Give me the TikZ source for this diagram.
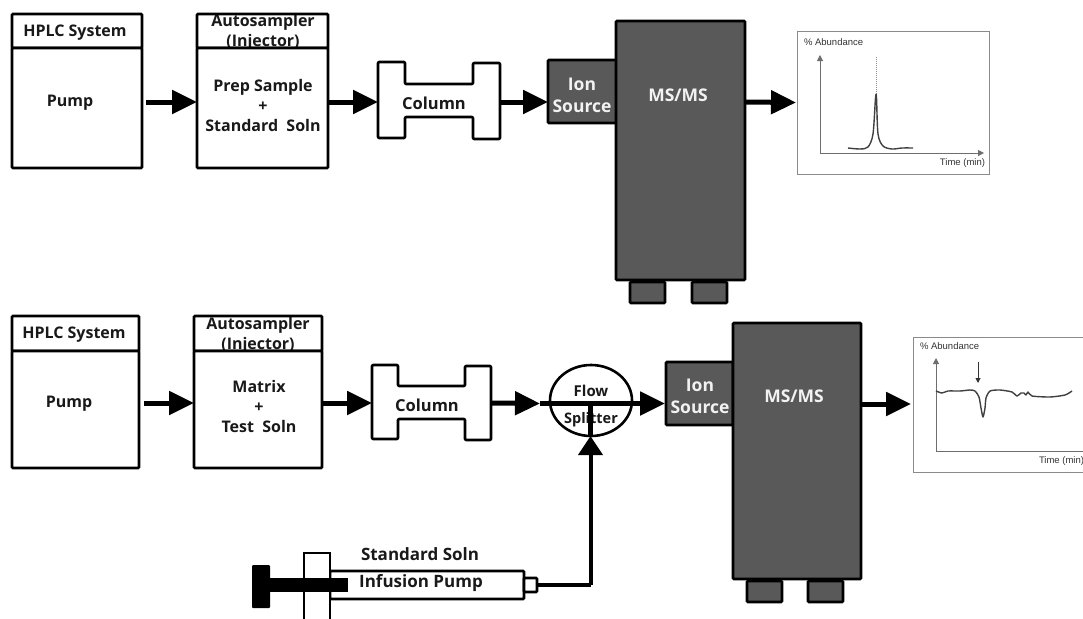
\documentclass[tikz,border=0pt]{standalone}
\usepackage{fontspec}
\setmainfont{Open Sans}
\newfontfamily\chartfont{Liberation Sans}
\usetikzlibrary{arrows.meta,shapes.geometric}
\definecolor{msgray}{HTML}{595959}
\definecolor{chartgray}{HTML}{8A8A8A}
\tikzset{
  every node/.style={outer sep=0},
  box/.style={draw=black,line width=2.6,fill=white,inner sep=0,anchor=north west,rounded corners=1},
  hollow/.style={box,fill=none},
  lab/.style={font=\fontsize{16}{20}\selectfont\bfseries,inner sep=0,align=center,text=black!90},
  biglab/.style={font=\fontsize{17}{20}\selectfont\bfseries,inner sep=0,align=center,text=black!90},
  whitelab/.style={font=\fontsize{17.5}{22}\selectfont\bfseries,inner sep=0,align=center,text=white!95!black},
  dark/.style={draw=black,line width=2.6,fill=msgray,inner sep=0,anchor=north west,rounded corners=1},
  foot/.style={dark,minimum width=35,minimum height=21},
  flow/.style={line width=5,-{Triangle[length=25,width=23]}},
  colshape/.style={draw=black,line width=2.6,fill=white,rounded corners=1,line join=round},
  ghost/.style={inner sep=0,minimum height=76},
  chart/.style={draw=chartgray,line width=1,fill=white,inner sep=0,anchor=north west},
  axis/.style={draw=chartgray!80!black,line width=1,-{Triangle[length=6,width=6]}},
  charttext/.style={font=\chartfont\fontsize{9.5}{11}\selectfont,text=black!80,inner sep=0},
  trace/.style={draw=black!75,line width=1.4,line join=round}
}
\begin{document}
\begin{tikzpicture}[x=1pt,y=-1pt]
\useasboundingbox (0,0) rectangle (1083,618);
% ---------- top row
\node[lab] (autoAt) at (263,32) {Autosampler\\(Injector)};
\node[hollow,minimum width=130,minimum height=34] (hplcA) at (12,14) {};
\node[box,minimum width=130,minimum height=120] (pumpA) at (12,48) {};
\node[lab] (hplcAt) at (75,33) {HPLC System};
\node[lab] (pumpAt) at (70,103) {Pump};
\node[hollow,minimum width=131,minimum height=34] (autoA) at (197,14) {};
\node[box,minimum width=131,minimum height=120] (prepA) at (197,48) {};
\node[lab] (prepAt) at (263,105) {Prep Sample\\+\\Standard\ \ Soln};
\draw[colshape] (378,62)--(405,62)--(405,84)--(473,84)--(473,63)--(500,63)--(500,139)--(473,139)--(473,117)--(405,117)--(405,138)--(378,138)--cycle;
\node[ghost,minimum width=122] (colA) at (439,102) {};
\node[lab,font=\fontsize{16.5}{20}\selectfont\bfseries] (colAt) at (434,103) {Column};
\node[foot] (footA1) at (630,282) {};
\node[foot] (footA2) at (692,282) {};
\node[dark,minimum width=69,minimum height=63] (ionA) at (548,60) {};
\node[whitelab] (ionAt) at (582,95) {Ion\\Source};
\node[dark,minimum width=129,minimum height=259] (msA) at (616,21) {};
\node[whitelab] (msAt) at (678,95) {MS/MS};
\node[chart,minimum width=192,minimum height=142] (chartA) at (797,32) {};
\draw[flow] ([shift={(4,-6)}]pumpA.east) -- ([shift={(0,-6)}]prepA.west);
\draw[flow] ([shift={(0,-6)}]prepA.east) -- (colA.west);
\draw[flow] (colA.east) -- ([shift={(0,10.5)}]ionA.west);
\draw[flow] ([shift={(0,-48.5)}]msA.east) -- ([shift={(-1,-0.5)}]chartA.west);
\coordinate (oA) at (820,153);
\coordinate (yA) at (820,55);
\coordinate (xA) at (984,153);
\draw[axis] (oA) -- (yA);
\draw[axis] (oA) -- (xA);
\draw[draw=black!45,line width=1,densely dotted] (876,57) -- (876,96);
\draw[trace] plot[smooth,tension=0.5] coordinates {(848,148)(860,149)(868,147)(873,134)(875.5,98)(876.5,98)(878,134)(883,146)(892,149)(902,148)(913,148)};
\node[charttext,anchor=west] (abA) at (804,42) {\% Abundance};
\node[charttext,anchor=east] (timeA) at (985,163) {Time (min)};
% ---------- bottom row
\node[lab] (autoBt) at (258,335) {Autosampler\\(Injector)};
\node[hollow,minimum width=127,minimum height=35] (hplcB) at (12,316) {};
\node[box,minimum width=127,minimum height=117] (pumpB) at (12,351) {};
\node[lab] (hplcBt) at (74,335) {HPLC System};
\node[lab] (pumpBt) at (69,404) {Pump};
\node[hollow,minimum width=128,minimum height=35] (autoB) at (194,316) {};
\node[box,minimum width=128,minimum height=117] (prepB) at (194,351) {};
\node[lab] (prepBt) at (259,406.5) {Matrix\\+\\Test\ \ Soln};
\draw[colshape] (372,365)--(398,365)--(398,386)--(465,386)--(465,366)--(491,366)--(491,440)--(465,440)--(465,419)--(398,419)--(398,439)--(372,439)--cycle;
\node[ghost,minimum width=119] (colB) at (431.5,403) {};
\node[lab,font=\fontsize{16.5}{20}\selectfont\bfseries] (colBt) at (427,405) {Column};
\node[draw=black,line width=2.6,fill=white,ellipse,inner sep=0,minimum width=82,minimum height=71] (split) at (591,400.5) {};
\node[lab,font=\fontsize{15}{18}\selectfont\bfseries] (flowt) at (591,391) {Flow};
\node[lab,font=\fontsize{14.5}{18}\selectfont\bfseries] (splitt) at (591,420) {Splitter};
\node[foot] (footB1) at (747,581) {};
\node[foot] (footB2) at (808,581) {};
\node[dark,minimum width=67,minimum height=63] (ionB) at (666,362) {};
\node[whitelab] (ionBt) at (700,396) {Ion\\Source};
\node[dark,minimum width=128,minimum height=256] (msB) at (733,323) {};
\node[whitelab] (msBt) at (794,396) {MS/MS};
\node[chart,minimum width=190,minimum height=135] (chartB) at (913,337) {};
\draw[flow] ([shift={(5,-6.5)}]pumpB.east) -- ([shift={(0,-6.5)}]prepB.west);
\draw[flow] ([shift={(0,-6.5)}]prepB.east) -- (colB.west);
\draw[flow] (colB.east) -- ([shift={(-10,3)}]split.west);
\draw[line width=5] ([shift={(-10,3)}]split.west) -- ([shift={(5,3)}]split.east);
\draw[flow] ([shift={(5,3)}]split.east) -- ([shift={(-1,10)}]ionB.west);
\draw[flow] ([shift={(0,-47)}]msB.east) -- ([shift={(-2,-0.5)}]chartB.west);
% syringe
\coordinate (tipend) at (590.5,585);
\node[box,minimum width=194,minimum height=28] (barrel) at (330,571) {};
\node[box,minimum width=13,minimum height=14] (tip) at (524,578) {};
\draw[draw=black,line width=2.6,fill=white] (304,620) -- (304,553) -- (330,553) -- (330,620);
\node[fill=black,inner sep=0,anchor=north west,minimum width=18,minimum height=43,rounded corners=1] (phead) at (252,565) {};
\node[fill=black,inner sep=0,anchor=west,minimum width=78,minimum height=14] (prod) at (270,585) {};
\node[biglab] (stdt) at (420,554.5) {Standard Soln};
\node[biglab] (inft) at (421,583) {Infusion Pump};
\draw[line width=4] (tip.east) -- (tipend);
\draw[line width=4,-{Triangle[length=19,width=24]}] (tipend) -- (split.south -| tipend);
\draw[line width=5] (split.south -| tipend) -- ([shift={(0,3)}]split.center -| tipend);
% chart B contents
\coordinate (oB) at (936,451);
\coordinate (yB) at (936,358);
\coordinate (xB) at (1090,451);
\coordinate (arT) at (978,362);
\coordinate (arB) at (978,383);
\draw[axis] (oB) -- (yB);
\draw[axis,-] (oB) -- (xB);
\draw[draw=black!80,line width=1,-{Triangle[length=5,width=5]}] (arT) -- (arB);
\draw[trace] plot[smooth,tension=0.4] coordinates {(936,391)(942,393)(948,391)(960,391)(970,390)(975,391)(979,397)(981,408)(983,417)(985,408)(986,398)(990,391)(1000,390)(1012,392)(1017,396)(1021,393)(1024,393)(1026,395)(1028,392)(1032,396)(1050,397)(1065,395)(1072,391)};
\node[charttext,anchor=west] (abB) at (920,346) {\% Abundance};
\node[charttext,anchor=west] (timeB) at (1039,461) {Time (min)};
\end{tikzpicture}
\end{document}
